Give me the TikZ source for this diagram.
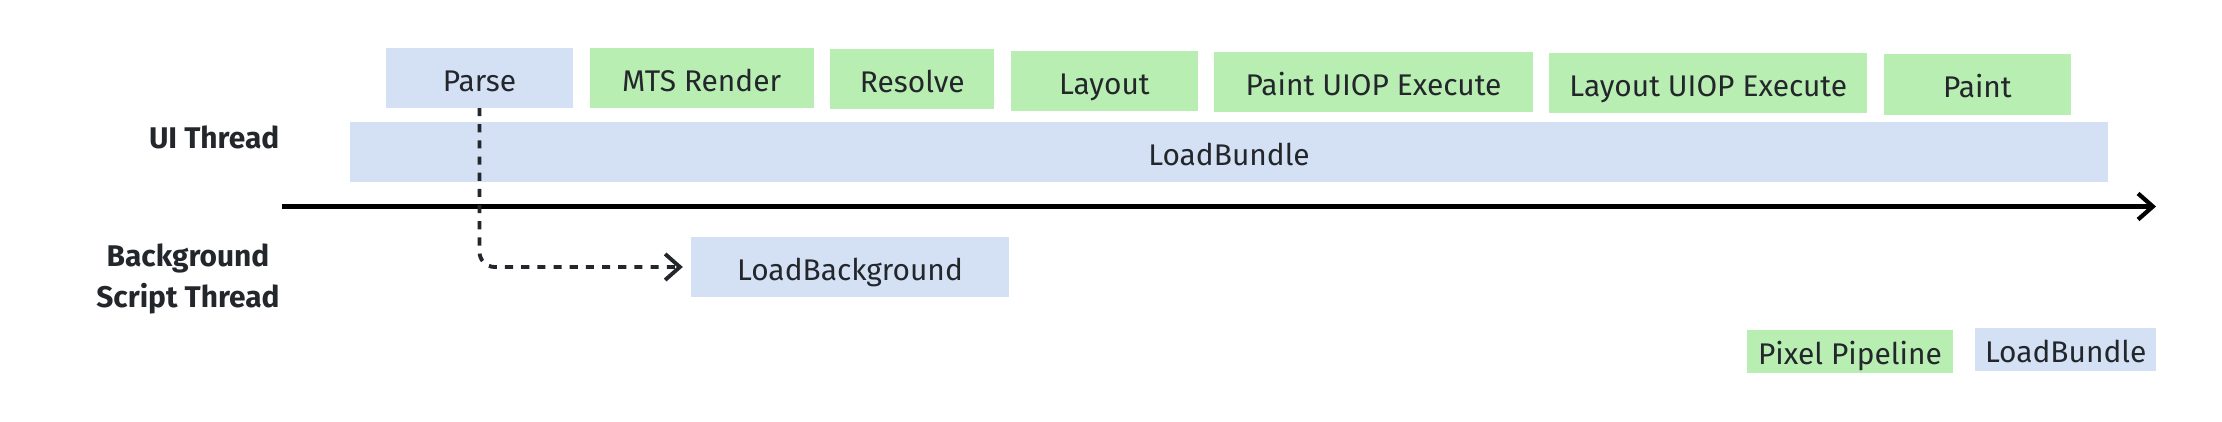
\documentclass[tikz,border=0pt]{standalone}
\usepackage{fontspec}
\setmainfont{Fira Sans}
\usetikzlibrary{arrows.meta,positioning}
\definecolor{loadblue}{RGB}{212,225,245}
\definecolor{pipegreen}{RGB}{185,238,178}
\definecolor{ink}{RGB}{35,38,43}

\begin{document}
\begin{tikzpicture}[x=0.01cm,y=-0.01cm,node distance=0.165cm,
    >={Straight Barb[length=4.2pt,width=7.4pt]}]
  \tikzstyle{every node}=[font=\fontsize{8.5}{11.4}\selectfont,text=ink]
  \tikzstyle{phase}=[rectangle,inner sep=0pt,outer sep=0pt,
                     text height=9.6pt,text depth=2pt,minimum height=0.6cm]
  \tikzstyle{pipe}=[phase,fill=pipegreen]
  \tikzstyle{bundle}=[phase,fill=loadblue]
  \tikzstyle{thread}=[font=\fontsize{8.5}{11.4}\selectfont\bfseries,
                      align=center,inner sep=0pt]
  \tikzstyle{axis}=[->,line width=1.2pt,draw=black]
  \tikzstyle{flow}=[->,line width=1.1pt,draw=ink,dash pattern=on 2.3pt off 2.3pt,
                    rounded corners=4.3pt,shorten >=2.3pt]
  \useasboundingbox (0,0) rectangle (2222,422);

  % thread names
  \node [thread,anchor=east] (ui) at (280,137) {UI Thread};
  \node [thread] (bgscript) at (188,279) {Background\\Script Thread};

  % UI thread
  \node [bundle,minimum width=1.87cm] (parse) at (479.5,78) {Parse};
  \node [pipe,minimum width=2.24cm] (mts) [right=of parse] {MTS Render};
  \node [pipe,minimum width=1.64cm,yshift=-0.01cm] (resolve) [right=of mts] {Resolve};
  \node [pipe,minimum width=1.87cm,yshift=-0.02cm] (layout) [right=of resolve] {Layout};
  \node [pipe,minimum width=3.18cm,yshift=-0.01cm] (paintop) [right=of layout] {Paint UIOP Execute};
  \node [pipe,minimum width=3.18cm,yshift=-0.01cm] (layoutop) [right=of paintop] {Layout UIOP Execute};
  \node [pipe,minimum width=1.87cm,yshift=-0.015cm] (paint) [right=of layoutop] {Paint};
  \node [bundle,minimum width=17.56cm] (bundle) at (1229,152) {LoadBundle};

  % time axis
  \coordinate (t0) at (282,206.5);
  \coordinate (t1) at (2156,206.5);
  \draw [axis] (t0) -- (t1);

  % background script thread
  \node [bundle,minimum width=3.18cm] (loadbg) at (850,267) {LoadBackground};
  \draw [flow] (parse.south) |- (loadbg.west);

  % legend
  \node [pipe,minimum width=2.06cm,minimum height=0.43cm] (pixel) at (1850,351.5) {Pixel Pipeline};
  \node [bundle,minimum width=1.81cm,minimum height=0.43cm,yshift=0.02cm] (legbundle)
    [right=0.22cm of pixel] {LoadBundle};
\end{tikzpicture}
\end{document}
